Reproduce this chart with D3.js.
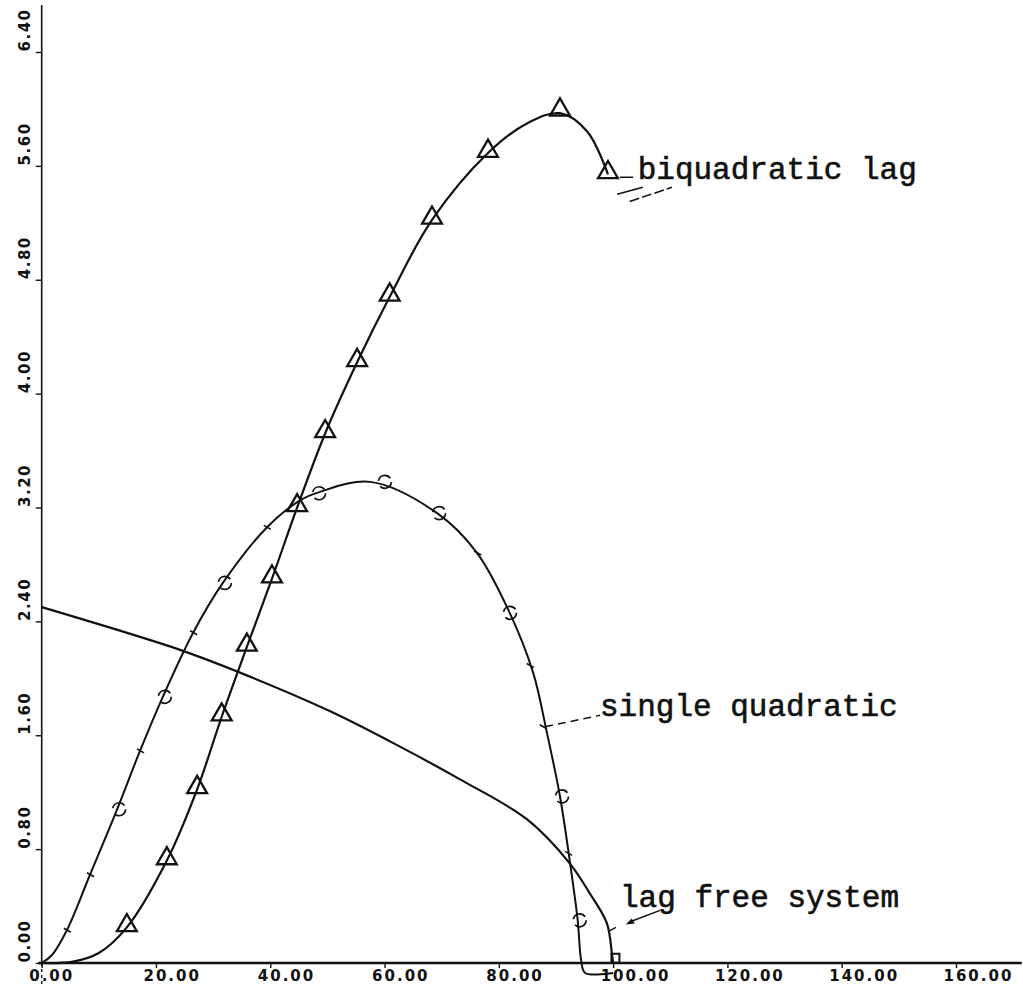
<!DOCTYPE html>
<html>
<head>
<meta charset="utf-8">
<script src="https://cdn.jsdelivr.net/npm/d3@7"></script>
<style>
  html, body { margin: 0; padding: 0; background: #fff; }
  svg { display: block; }
</style>
</head>
<body>
<svg id="chart" width="1023" height="989"></svg>
<script>
// ---------- data ----------
const xTicks = [0, 20, 40, 60, 80, 100, 120, 140, 160];
const yTicks = [0, 0.8, 1.6, 2.4, 3.2, 4.0, 4.8, 5.6, 6.4];

// biquadratic lag (triangles)
const biqX = [0, 5.5, 10.0, 14.9, 21.9, 27.2, 31.5, 35.9, 40.3, 44.7, 49.6, 55.2, 60.9, 68.3, 78.1, 85.0, 90.7, 95.5, 99.1];
const biqY = [0, 0.01, 0.07, 0.25, 0.72, 1.22, 1.73, 2.22, 2.70, 3.20, 3.72, 4.22, 4.68, 5.22, 5.69, 5.90, 5.97, 5.84, 5.54];
const biqMarkX = [14.9, 21.9, 27.2, 31.5, 35.9, 40.3, 44.7, 49.6, 55.2, 60.9, 68.3, 78.1, 90.7, 99.1];
const biqMarkY = [0.25, 0.72, 1.22, 1.73, 2.22, 2.70, 3.20, 3.72, 4.22, 4.68, 5.22, 5.69, 5.98, 5.54];

// single quadratic (circles)
const sqX = [0, 1.8, 4.4, 8.45, 13.2, 17.2, 21.2, 26.5, 31.7, 39.4, 45.2, 48.7, 57.5, 69.2, 76.2, 81.9, 86.0, 88.4, 90.7, 92.4, 93.8, 94.4, 95.1, 100.0];
const sqY = [0, 0.056, 0.23, 0.62, 1.08, 1.49, 1.87, 2.32, 2.67, 3.06, 3.25, 3.31, 3.38, 3.16, 2.88, 2.46, 2.04, 1.62, 1.17, 0.72, 0.30, 0.02, -0.07, -0.07];
const sqMarkX = [13.2, 21.2, 31.7, 48.2, 59.7, 69.2, 81.6, 90.7, 93.8];
const sqMarkY = [1.08, 1.87, 2.67, 3.30, 3.38, 3.16, 2.46, 1.17, 0.30];
const sqTickX = [4.4, 8.45, 17.2, 26.5, 39.4, 76.2, 85.4, 87.7, 92.1];
const sqTickY = [0.23, 0.62, 1.49, 2.32, 3.06, 2.88, 2.09, 1.66, 0.77];

// lag free system
const lfX = [0, 24.2, 34.7, 50.4, 62.7, 73.2, 84.9, 92.4, 95.9, 98.9, 99.8, 100.0];
const lfY = [2.50, 2.20, 2.04, 1.77, 1.52, 1.29, 1.01, 0.70, 0.49, 0.28, 0.06, 0.0];
const lfMarkX = [100.4];
const lfMarkY = [0.03];

const labels = ["biquadratic lag", "single quadratic", "lag free system"];
const labelX = [104.3, 97.7, 101.2];
const labelY = [5.51, 1.735, 0.393];

// ---------- drawing ----------
const svg = d3.select("#chart");
const x = d3.scaleLinear().domain([0, 160]).range([41.7, 956]);
const y = d3.scaleLinear().domain([0, 6.4]).range([963, 52]);

const ink = "#111";

// axes lines
svg.append("line")
  .attr("x1", x(-0.6)).attr("x2", x(171.5))
  .attr("y1", y(0)).attr("y2", y(0))
  .attr("stroke", ink).attr("stroke-width", 2.6);
svg.append("line")
  .attr("x1", x(0)).attr("x2", x(0))
  .attr("y1", y(0)).attr("y2", y(6.73))
  .attr("stroke", ink).attr("stroke-width", 1.6);
svg.append("line")
  .attr("x1", x(0)).attr("x2", x(0))
  .attr("y1", y(0)).attr("y2", y(-0.16))
  .attr("stroke", ink).attr("stroke-width", 1.4)
  .attr("stroke-dasharray", "3,3");

// x axis ticks and labels
const xAxis = d3.axisBottom(x).tickValues(xTicks).tickSize(5).tickFormat(d3.format(".2f"));
const gx = svg.append("g").attr("transform", `translate(0,${y(0)})`).call(xAxis);
gx.select(".domain").remove();
gx.selectAll(".tick line").attr("stroke", ink).attr("stroke-width", 1.4);
gx.selectAll(".tick text")
  .attr("text-anchor", "start")
  .attr("x", -13).attr("y", 18).attr("dy", 0)
  .attr("fill", ink)
  .style("font-family", "'DejaVu Sans', sans-serif")
  .style("font-weight", "bold")
  .style("font-size", "15px")
  .style("letter-spacing", "2px");

// y axis ticks and labels
const yAxis = d3.axisLeft(y).tickValues(yTicks).tickSize(6).tickFormat(d3.format(".2f"));
const gy = svg.append("g").attr("transform", `translate(${x(0)},0)`).call(yAxis);
gy.select(".domain").remove();
gy.selectAll(".tick line").attr("stroke", ink).attr("stroke-width", 1.4);
gy.selectAll(".tick text")
  .attr("text-anchor", "start")
  .attr("x", 0).attr("y", 0).attr("dy", 0)
  .attr("transform", "translate(-12,-1) rotate(-90)")
  .attr("fill", ink)
  .style("font-family", "'DejaVu Sans', sans-serif")
  .style("font-weight", "bold")
  .style("font-size", "15px")
  .style("letter-spacing", "1.5px");

// curves
const line = d3.line().x(d => x(d[0])).y(d => y(d[1])).curve(d3.curveCatmullRom.alpha(0.5));
const zip = (a, b) => a.map((v, i) => [v, b[i]]);

svg.append("path").datum(zip(lfX, lfY)).attr("d", line)
  .attr("fill", "none").attr("stroke", ink).attr("stroke-width", 2.2);
svg.append("path").datum(zip(sqX, sqY)).attr("d", line)
  .attr("fill", "none").attr("stroke", ink).attr("stroke-width", 2);
svg.append("path").datum(zip(biqX, biqY)).attr("d", line)
  .attr("fill", "none").attr("stroke", ink).attr("stroke-width", 2.2);

// triangle markers
const tri = d3.symbol().type(d3.symbolTriangle).size(170);
svg.append("g").selectAll("path").data(zip(biqMarkX, biqMarkY)).join("path")
  .attr("d", tri)
  .attr("transform", d => `translate(${x(d[0])},${y(d[1]) - 2})`)
  .attr("fill", "none").attr("stroke", ink).attr("stroke-width", 2.3);

// circle markers (plotter-style broken circles)
svg.append("g").selectAll("circle").data(zip(sqMarkX, sqMarkY)).join("circle")
  .attr("cx", d => x(d[0]) + 2).attr("cy", d => y(d[1]))
  .attr("r", 6.5)
  .attr("fill", "none").attr("stroke", ink).attr("stroke-width", 1.7)
  .attr("stroke-dasharray", "15,6");

// small tick marks along single quadratic
svg.append("g").selectAll("line").data(zip(sqTickX, sqTickY)).join("line")
  .attr("x1", d => x(d[0]) - 3).attr("x2", d => x(d[0]) + 4)
  .attr("y1", d => y(d[1]) - 2).attr("y2", d => y(d[1]) + 2)
  .attr("stroke", ink).attr("stroke-width", 1.6);

// lag free end marker
svg.append("g").selectAll("rect").data(zip(lfMarkX, lfMarkY)).join("rect")
  .attr("x", d => x(d[0]) - 4).attr("y", d => y(d[1]) - 5)
  .attr("width", 8).attr("height", 9)
  .attr("fill", "none").attr("stroke", ink).attr("stroke-width", 2);

// leader lines
const leader = (x1, y1, x2, y2, dash, w) => svg.append("line")
  .attr("x1", x(x1)).attr("y1", y(y1)).attr("x2", x(x2)).attr("y2", y(y2))
  .attr("stroke", ink).attr("stroke-width", w || 1.5)
  .attr("stroke-dasharray", dash || null);
leader(101.2, 5.52, 103.5, 5.52);
leader(100.7, 5.40, 105.2, 5.45);
leader(102.9, 5.35, 110.3, 5.45, "10,3");
leader(88.1, 1.66, 97.7, 1.74, "8,5");
leader(99.1, 0.22, 100.5, 0.25);
leader(103.0, 0.29, 108.2, 0.37);
svg.append("path")
  .attr("d", `M${x(102.2)},${y(0.27)} l9,-1 l-3,-5 z`)
  .attr("fill", ink);

// labels
svg.append("g").selectAll("text").data(labels).join("text")
  .attr("x", (d, i) => x(labelX[i]))
  .attr("y", (d, i) => y(labelY[i]))
  .attr("fill", ink)
  .attr("stroke", ink)
  .attr("stroke-width", 0.6)
  .style("font-family", "'Liberation Mono', monospace")
  .style("font-size", "31px")
  .text(d => d);
</script>
</body>
</html>
